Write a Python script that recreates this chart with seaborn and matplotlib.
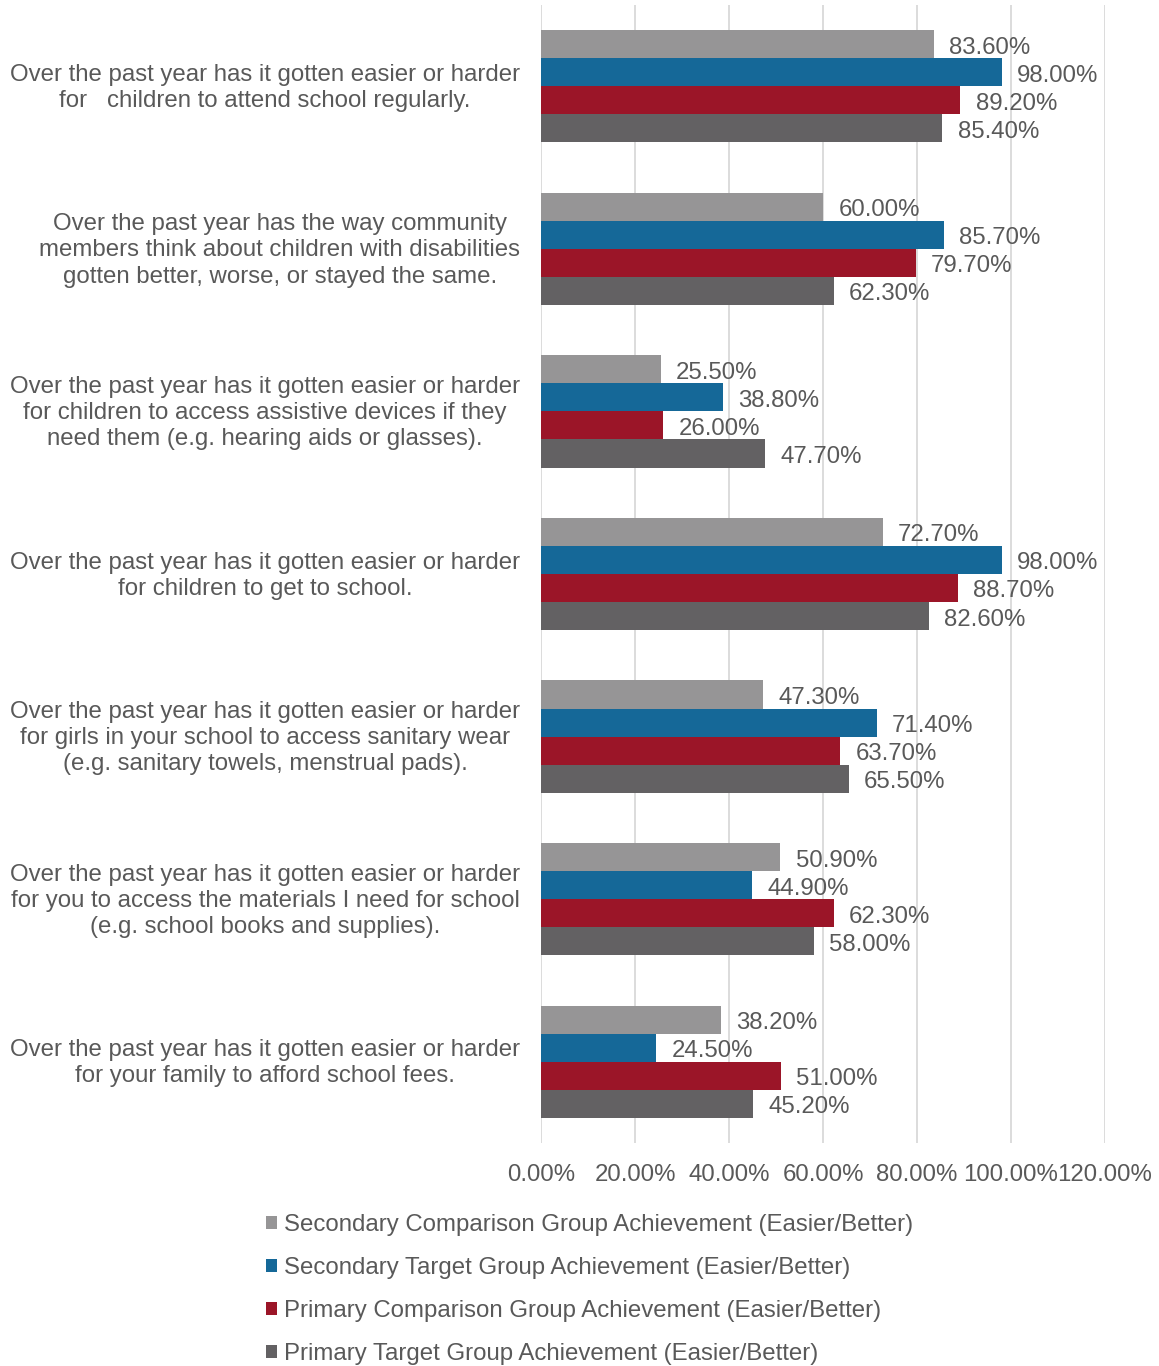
import matplotlib
matplotlib.use("Agg")
import matplotlib.pyplot as plt
import matplotlib.transforms as mtransforms
import seaborn as sns
import pandas as pd

questions = [
    "Over the past year has it gotten easier or harder\nfor   children to attend school regularly.",
    "Over the past year has the way community\nmembers think about children with disabilities\ngotten better, worse, or stayed the same.",
    "Over the past year has it gotten easier or harder\nfor children to access assistive devices if they\nneed them (e.g. hearing aids or glasses).",
    "Over the past year has it gotten easier or harder\nfor children to get to school.",
    "Over the past year has it gotten easier or harder\nfor girls in your school to access sanitary wear\n(e.g. sanitary towels, menstrual pads).",
    "Over the past year has it gotten easier or harder\nfor you to access the materials I need for school\n(e.g. school books and supplies).",
    "Over the past year has it gotten easier or harder\nfor your family to afford school fees.",
]

groups = [
    "Secondary Comparison Group Achievement (Easier/Better)",
    "Secondary Target Group Achievement (Easier/Better)",
    "Primary Comparison Group Achievement (Easier/Better)",
    "Primary Target Group Achievement (Easier/Better)",
]

secondary_comparison = [83.6, 60.0, 25.5, 72.7, 47.3, 50.9, 38.2]
secondary_target = [98.0, 85.7, 38.8, 98.0, 71.4, 44.9, 24.5]
primary_comparison = [89.2, 79.7, 26.0, 88.7, 63.7, 62.3, 51.0]
primary_target = [85.4, 62.3, 47.7, 82.6, 65.5, 58.0, 45.2]

x_ticks = [0, 20, 40, 60, 80, 100, 120]

colors = ["#969596", "#156898", "#9b1528", "#636163"]
text_color = "#595959"
fs = 17.3

rows = []
for g, vals in zip(groups, [secondary_comparison, secondary_target,
                            primary_comparison, primary_target]):
    for q, v in zip(questions, vals):
        rows.append({"question": q, "group": g, "value": v})
df = pd.DataFrame(rows)

sns.set_theme(style="white")
plt.rcParams["font.family"] = ["Liberation Sans", "DejaVu Sans"]
plt.rcParams["font.size"] = fs

fig = plt.figure(figsize=(11.59, 13.66), dpi=100)
ax = fig.add_axes([541 / 1159, 1 - 1143 / 1366, (1105 - 541) / 1159, (1143 - 5) / 1366])

sns.barplot(data=df, y="question", x="value", hue="group", order=questions,
            hue_order=groups, palette=colors, orient="h", width=0.69,
            saturation=1, errorbar=None, linewidth=0, ax=ax, legend=True)

# value labels just right of each bar, nudged slightly below centre
for container in ax.containers:
    anns = ax.bar_label(container, fmt="%.2f%%", padding=11, fontsize=fs,
                        color=text_color)
    for a in anns:
        a.xyann = (11, -2.5)

ax.set_xlim(0, 120)
ax.set_ylim(6.5, -0.5)
ax.set_xticks(x_ticks)
ax.set_xticklabels([f"{t:.2f}%" for t in x_ticks])
ax.set_xlabel("")
ax.set_ylabel("")
ax.grid(axis="x", color="#d9d9d9", linewidth=1.3)
ax.set_axisbelow(True)
for s in ax.spines.values():
    s.set_visible(False)
ax.tick_params(axis="both", length=0, labelsize=fs, colors=text_color)
ax.tick_params(axis="y", pad=15)
ax.tick_params(axis="x", pad=15)

# category labels: centred lines, lifted a few pixels
lift = mtransforms.ScaledTranslation(0, 3 / 100, fig.dpi_scale_trans)
for tick in ax.yaxis.get_major_ticks():
    lbl = tick.label1
    lbl.set_multialignment("center")
    lbl.set_linespacing(1.25)
    lbl.set_transform(lbl.get_transform() + lift)

handles, labels = ax.get_legend_handles_labels()
ax.get_legend().remove()
leg = fig.legend(handles, labels, loc="upper left",
                 bbox_to_anchor=(266 / 1159, 1 - 1214 / 1366),
                 frameon=False, fontsize=fs, handlelength=0.46,
                 handleheight=0.46, handletextpad=0.3, labelspacing=0.87,
                 borderaxespad=0, borderpad=0)
for t in leg.get_texts():
    t.set_color(text_color)

fig.savefig("out.png", dpi=100)
